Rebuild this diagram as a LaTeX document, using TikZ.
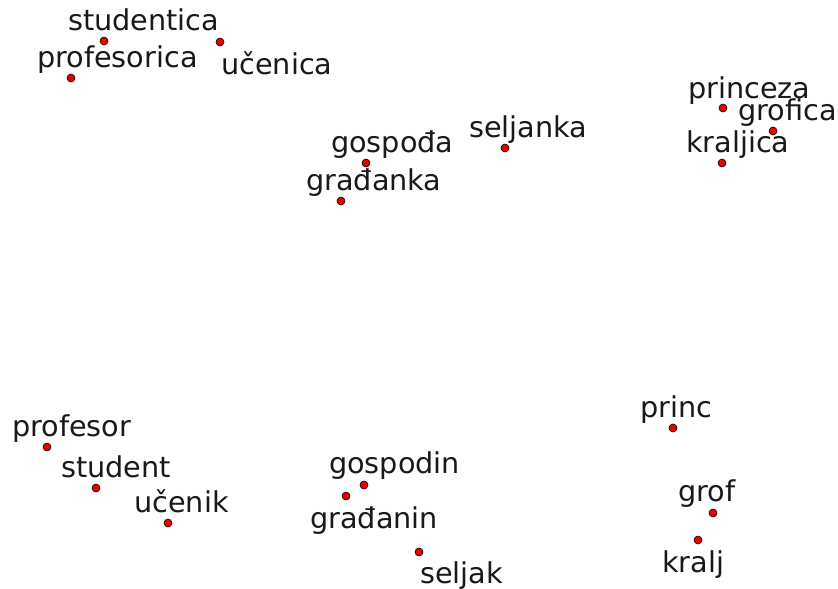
\documentclass[tikz,border=0pt]{standalone}
\usepackage{fontspec}
\setmainfont{DejaVu Sans}
\begin{document}
\begin{tikzpicture}[x=1pt,y=-1pt,
  pt/.style={circle,fill={rgb,255:red,230;green,0;blue,0},draw=black,line width=0.6pt,inner sep=0pt,minimum size=8pt},
  lbl/.style={anchor=base west,inner sep=0pt,font=\fontsize{28.7}{34}\selectfont,text=black!90}]
\useasboundingbox (0,0) rectangle (838,589);
% points
\node[pt] (p1) at (104,41) {};
\node[pt] (p2) at (71,78) {};
\node[pt] (p3) at (220,42) {};
\node[pt] (p4) at (366,163) {};
\node[pt] (p5) at (341,201) {};
\node[pt] (p6) at (505,148) {};
\node[pt] (p7) at (723,108) {};
\node[pt] (p8) at (773,131) {};
\node[pt] (p9) at (722,163) {};
\node[pt] (p10) at (47,447) {};
\node[pt] (p11) at (96,488) {};
\node[pt] (p12) at (168,523) {};
\node[pt] (p13) at (364,485) {};
\node[pt] (p14) at (346,496) {};
\node[pt] (p15) at (419,552) {};
\node[pt] (p16) at (673,428) {};
\node[pt] (p17) at (713,513) {};
\node[pt] (p18) at (698,540) {};
% labels
\node[lbl] (l1) at (68,30) {studentica};
\node[lbl] (l2) at (37,67) {profesorica};
\node[lbl] (l3) at (221,74) {učenica};
\node[lbl] (l4) at (331,152) {gospođa};
\node[lbl] (l5) at (306,190) {građanka};
\node[lbl] (l6) at (469,137) {seljanka};
\node[lbl] (l7) at (688,98) {princeza};
\node[lbl] (l8) at (738,120) {grofica};
\node[lbl] (l9) at (686,152) {kraljica};
\node[lbl] (l10) at (12,436) {profesor};
\node[lbl] (l11) at (61,477) {student};
\node[lbl] (l12) at (134,512) {učenik};
\node[lbl] (l13) at (329,473) {gospodin};
\node[lbl] (l14) at (310,528) {građanin};
\node[lbl] (l15) at (420,583) {seljak};
\node[lbl] (l16) at (640,417) {princ};
\node[lbl] (l17) at (678,501) {grof};
\node[lbl] (l18) at (662,572) {kralj};
\end{tikzpicture}
\end{document}
